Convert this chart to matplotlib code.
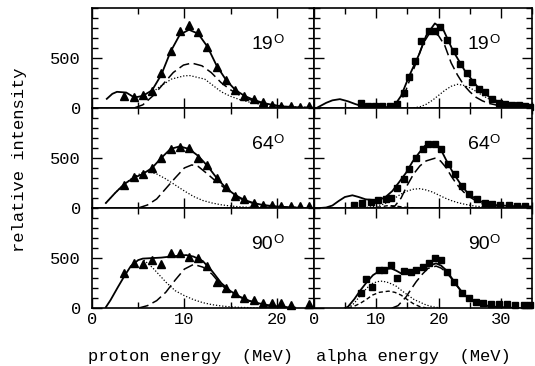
import matplotlib
matplotlib.use("Agg")
import matplotlib.pyplot as plt
from matplotlib.ticker import MultipleLocator

plt.rcParams['font.family'] = 'Liberation Mono'

# ---- proton spectra (left column) ----
p19_pts_e = [3.5, 4.5, 5.5, 6.5, 7.5, 8.5, 9.5, 10.5, 11.5, 12.5, 13.5, 14.5, 15.5, 16.5, 17.5, 18.5, 19.5, 20.5, 21.5, 22.5, 23.5]
p19_pts_i = [120, 107, 127, 170, 343, 563, 763, 830, 753, 603, 403, 280, 180, 120, 93, 60, 30, 20, 17, 13, 17]
p19_tot_e = [1.6, 2.2, 2.7, 3.7, 4.6, 5.5, 6.5, 7.5, 8.5, 9.5, 10.5, 11.5, 12.5, 13.5, 14.5, 15.5, 16.5, 17.5, 18.5, 19.5, 20.5, 21.5]
p19_tot_i = [90, 140, 160, 153, 103, 120, 175, 330, 560, 730, 780, 740, 610, 420, 280, 180, 120, 80, 50, 30, 15, 10]
p19_a_e = [4.6, 5.5, 6.6, 7.7, 8.8, 9.9, 10.8, 11.9, 12.9, 14, 15, 16, 17, 18, 19, 20, 21, 22, 24]
p19_a_i = [0, 30, 120, 237, 353, 427, 447, 420, 353, 250, 180, 125, 85, 55, 35, 22, 13, 8, 3]
p19_b_e = [5.5, 6.5, 7.2, 8.6, 10, 10.6, 12.2, 14, 15, 16, 17, 18, 19, 20, 22, 24]
p19_b_i = [90, 150, 203, 287, 320, 322, 287, 160, 115, 82, 58, 40, 27, 18, 8, 3]

p64_pts_e = [3.5, 4.5, 5.5, 6.5, 7.5, 8.5, 9.5, 10.5, 11.5, 12.5, 13.5, 14.5, 15.5, 16.5, 17.5, 18.5, 19.5, 20.5, 21.5, 22.5, 23.5]
p64_pts_i = [230, 310, 337, 397, 503, 587, 613, 597, 503, 430, 297, 210, 120, 87, 53, 33, 27, 20, 20, 20, 20]
p64_tot_e = [1.5, 2.5, 3.5, 4.5, 5.5, 6.5, 7.5, 8.5, 9.5, 10.5, 11.5, 12.5, 13.5, 14.5, 15.5, 16.5, 17.5, 18.5, 19.5, 20.5, 22]
p64_tot_i = [50, 150, 240, 300, 340, 400, 500, 590, 615, 590, 520, 420, 300, 200, 130, 80, 50, 30, 20, 12, 5]
p64_a_e = [5, 6, 7, 8, 9, 10, 10.8, 11.5, 12.5, 13.5, 14.5, 15.5, 16.5, 17.5, 18.5, 19.5, 21, 23]
p64_a_i = [0, 30, 90, 195, 300, 400, 430, 415, 340, 260, 190, 120, 75, 45, 28, 17, 8, 3]
p64_b_e = [1.5, 2.5, 3.5, 4.5, 5.5, 6, 7, 8, 9, 10, 11, 12, 13, 14, 15, 16, 17, 18, 20]
p64_b_i = [50, 150, 240, 310, 355, 365, 340, 290, 230, 170, 115, 75, 50, 32, 20, 12, 7, 4, 2]

p90_pts_e = [3.5, 4.5, 5.5, 6.5, 7.5, 8.5, 9.5, 10.5, 11.5, 12.5, 13.5, 14.5, 15.5, 16.5, 17.5, 18.5, 19.5, 20.5, 21.5, 23.5]
p90_pts_i = [347, 453, 437, 480, 437, 547, 553, 513, 497, 420, 263, 197, 147, 103, 80, 47, 47, 47, 30, 37]
p90_tot_e = [1.5, 2, 2.8, 3.5, 4.2, 5, 5.5, 6.5, 7.5, 8.5, 9.5, 10.2, 11, 12, 13, 14, 15, 16, 17, 18, 19, 20, 21, 22]
p90_tot_i = [10, 80, 210, 320, 420, 480, 495, 500, 505, 515, 525, 530, 515, 470, 370, 250, 170, 115, 75, 50, 30, 18, 10, 5]
p90_a_e = [5, 6, 7, 8, 9, 10, 11, 12, 13, 14, 15, 16, 17, 18, 19, 20, 21, 22]
p90_a_i = [0, 25, 75, 160, 280, 390, 437, 410, 340, 230, 160, 110, 72, 48, 30, 18, 10, 5]
p90_b_e = [5.6, 6, 6.6, 7.3, 8, 9, 10, 11, 12, 13, 14, 15, 16, 18]
p90_b_i = [480, 450, 400, 330, 260, 175, 125, 85, 55, 35, 22, 13, 8, 3]

# ---- alpha spectra (right column) ----
a19_pts_e = [7.5, 8.7, 9.8, 11.0, 12.2, 13.4, 14.5, 15.3, 16.2, 17.2, 18.4, 19.4, 20.3, 21.3, 22.4, 23.5, 24.5, 25.4, 26.4, 27.4, 28.5, 29.6, 30.7, 31.8, 32.8, 33.8, 34.7]
a19_pts_i = [47, 15, 15, 15, 15, 37, 153, 303, 463, 663, 763, 770, 803, 680, 570, 437, 347, 260, 187, 160, 93, 53, 40, 30, 25, 20, 13]
a19_tot_e = [0.5, 2, 3, 4.2, 5.5, 6.7, 8, 9, 12, 13, 14, 15.3, 16.9, 18, 19.4, 20.7, 22.3, 24.2, 26.1, 28.2, 30.4, 32, 35]
a19_tot_i = [0, 50, 75, 87, 65, 37, 12, 5, 8, 30, 120, 320, 537, 720, 843, 787, 570, 370, 220, 103, 37, 15, 5]
a19_a_e = [12.5, 13.5, 14.5, 15.5, 16.5, 17.5, 18.5, 19.1, 20, 21, 22, 23, 24, 25, 26, 27, 28, 30, 32, 34]
a19_a_i = [0, 40, 130, 300, 470, 640, 740, 760, 720, 620, 450, 330, 230, 160, 105, 70, 45, 18, 6, 2]
a19_b_e = [16, 17, 18, 19, 20, 21, 22, 23, 24, 25, 26, 27, 28, 29, 30, 31, 32, 34]
a19_b_i = [0, 10, 35, 75, 125, 175, 215, 235, 225, 200, 165, 125, 90, 60, 38, 22, 12, 4]

a64_pts_e = [6.4, 7.8, 9.2, 10.3, 11.5, 12.4, 13.3, 14.4, 15.3, 16.4, 17.5, 18.3, 19.4, 20.4, 21.5, 22.6, 23.7, 24.9, 26.1, 27.4, 28.5, 29.8, 31.2, 32.5, 33.9]
a64_pts_i = [30, 50, 60, 80, 87, 100, 203, 287, 387, 503, 587, 637, 637, 587, 437, 337, 220, 137, 87, 53, 37, 27, 27, 20, 20]
a64_tot_e = [1, 2, 3, 4, 5, 6.2, 7.2, 8.3, 9.5, 10.5, 11.5, 12.6, 13.7, 14.8, 15.8, 16.9, 17.8, 18.8, 19.5, 20.2, 21.2, 22.3, 23.4, 24.5, 25.8, 27.2, 29, 31.5, 35]
a64_tot_i = [0, 5, 25, 70, 110, 127, 110, 87, 80, 80, 110, 170, 260, 353, 460, 553, 620, 647, 640, 603, 480, 353, 250, 160, 95, 53, 30, 20, 15]
a64_a_e = [12, 13, 14, 15, 16, 17, 18, 19.4, 20.3, 21.2, 22, 22.9, 24, 25, 26, 27, 28, 30]
a64_a_i = [0, 20, 100, 230, 340, 420, 470, 497, 470, 403, 320, 237, 160, 110, 70, 42, 25, 8]
a64_b_e = [8, 9, 10, 11, 12, 13, 14, 15, 16, 17, 18, 19, 20, 21, 22, 23, 24, 25, 26, 28, 30]
a64_b_i = [3, 10, 20, 35, 60, 100, 140, 170, 188, 193, 180, 160, 130, 100, 75, 55, 40, 28, 18, 8, 3]
a64_c_e = [9, 10.5, 12, 13, 14.5, 16]
a64_c_i = [0, 10, 25, 20, 8, 0]

a90_pts_e = [7.5, 8.4, 9.4, 10.4, 11.3, 12.4, 13.4, 14.5, 15.5, 16.4, 17.5, 18.4, 19.5, 20.4, 21.4, 22.5, 23.7, 24.8, 26.0, 27.1, 28.4, 29.7, 31.0, 32.3, 33.6, 34.7]
a90_pts_i = [153, 287, 213, 380, 380, 430, 297, 370, 357, 380, 413, 453, 503, 480, 363, 263, 147, 100, 63, 47, 40, 40, 37, 35, 35, 35]
a90_tot_e = [5, 5.5, 6.5, 7.5, 8.5, 9.5, 10.5, 11.5, 12.4, 13.2, 14, 15, 15.6, 16.5, 17.5, 18.5, 19.6, 20.4, 21.2, 22, 22.9, 23.7, 24.5, 25.5, 26.5, 27.5, 29, 31, 33]
a90_tot_i = [0, 15, 90, 180, 260, 330, 370, 390, 397, 375, 347, 350, 363, 380, 397, 425, 447, 425, 380, 310, 230, 165, 113, 70, 45, 28, 15, 6, 2]
a90_a_e = [12.5, 13.5, 14.8, 15.6, 16.4, 17.4, 18.3, 19.6, 20.4, 21.2, 22, 22.9, 23.7, 24.5, 25.5, 26.5, 27.5, 29, 31]
a90_a_i = [0, 25, 113, 190, 263, 340, 397, 420, 400, 360, 300, 225, 160, 110, 68, 42, 25, 12, 4]
a90_b_e = [5.5, 6.5, 7.5, 8.5, 9.4, 10.2, 11, 12, 13.2, 14.2, 15.3, 16.1, 16.9, 18, 19.1, 20]
a90_b_i = [0, 50, 130, 200, 247, 265, 270, 255, 220, 170, 120, 85, 63, 32, 13, 5]
a90_c_e = [5.5, 6.5, 7.5, 8.5, 9.4, 10.5, 12, 13, 14, 15, 15.9, 17, 18]
a90_c_i = [0, 20, 50, 90, 130, 158, 170, 158, 130, 85, 47, 15, 3]

angles = ['19', '64', '90']

fig = plt.figure(figsize=(5.35, 3.66), dpi=100)
gs = fig.add_gridspec(3, 2, left=0.172, right=0.995, top=0.979, bottom=0.158,
                      hspace=0, wspace=0, width_ratios=[222, 219])

solid = dict(color='black', lw=1.3)
dashed = dict(color='black', lw=1.1, linestyle=(0, (7, 3)))
dotted = dict(color='black', lw=0.9, linestyle=(0, (1, 1.5)))
short = dict(color='black', lw=1.0, linestyle=(0, (3, 2)))

left_sets = [
    (p19_pts_e, p19_pts_i, p19_tot_e, p19_tot_i, p19_a_e, p19_a_i, p19_b_e, p19_b_i),
    (p64_pts_e, p64_pts_i, p64_tot_e, p64_tot_i, p64_a_e, p64_a_i, p64_b_e, p64_b_i),
    (p90_pts_e, p90_pts_i, p90_tot_e, p90_tot_i, p90_a_e, p90_a_i, p90_b_e, p90_b_i),
]
right_sets = [
    (a19_pts_e, a19_pts_i, a19_tot_e, a19_tot_i, a19_a_e, a19_a_i, a19_b_e, a19_b_i, None, None),
    (a64_pts_e, a64_pts_i, a64_tot_e, a64_tot_i, a64_a_e, a64_a_i, a64_b_e, a64_b_i, a64_c_e, a64_c_i),
    (a90_pts_e, a90_pts_i, a90_tot_e, a90_tot_i, a90_a_e, a90_a_i, a90_b_e, a90_b_i, a90_c_e, a90_c_i),
]


def style_axis(ax, xmax, show_x, show_y):
    ax.set_xlim(0, xmax)
    ax.set_ylim(0, 1000)
    ax.xaxis.set_major_locator(MultipleLocator(10))
    ax.xaxis.set_minor_locator(MultipleLocator(5))
    ax.set_yticks([0, 500])
    ax.yaxis.set_minor_locator(MultipleLocator(100))
    ax.tick_params(which='both', direction='in', top=True, right=True,
                   labelsize=12.3, width=1.0)
    ax.tick_params(which='major', length=7)
    ax.tick_params(which='minor', length=4.5)
    ax.tick_params(axis='y', pad=8)
    ax.tick_params(axis='x', pad=3)
    if not show_x:
        ax.tick_params(labelbottom=False)
    if not show_y:
        ax.tick_params(labelleft=False)
    for s in ax.spines.values():
        s.set_linewidth(1.2)


def angle_label(ax, xfrac, text):
    # angle number with a raised circle (degree mark) after it
    ax.text(xfrac, 0.59, text, transform=ax.transAxes,
            family='Liberation Sans', fontsize=14, ha='left', va='baseline')
    ax.text(xfrac + 0.1, 0.65, 'O', transform=ax.transAxes,
            family='Liberation Sans', fontsize=9.5, ha='left', va='baseline')


for row in range(3):
    ax = fig.add_subplot(gs[row, 0])
    pe, pi, te, ti, ae, ai, be, bi = left_sets[row]
    ax.plot(te, ti, **solid)
    ax.plot(ae, ai, **dashed)
    ax.plot(be, bi, **dotted)
    ax.plot(pe, pi, linestyle='none', marker='^', ms=5.5, color='black', clip_on=False)
    style_axis(ax, 24, row == 2, True)
    angle_label(ax, 0.72, angles[row])

    ax = fig.add_subplot(gs[row, 1])
    pe, pi, te, ti, ae, ai, be, bi, ce, ci = right_sets[row]
    ax.plot(te, ti, **solid)
    ax.plot(ae, ai, **dashed)
    ax.plot(be, bi, **dotted)
    if ce is not None:
        ax.plot(ce, ci, **short)
    ax.plot(pe, pi, linestyle='none', marker='s', ms=4.5, color='black', clip_on=False)
    style_axis(ax, 35, row == 2, False)
    angle_label(ax, 0.705, angles[row])

fig.text(190 / 535, 1 - 357 / 366, 'proton energy  (MeV)', ha='center', va='center', fontsize=12.3)
fig.text(413 / 535, 1 - 357 / 366, 'alpha energy  (MeV)', ha='center', va='center', fontsize=12.3)
fig.text(20 / 535, 1 - 160 / 366, 'relative intensity', rotation=90, ha='center', va='center', fontsize=12.3)

fig.savefig('out.png', dpi=100)
